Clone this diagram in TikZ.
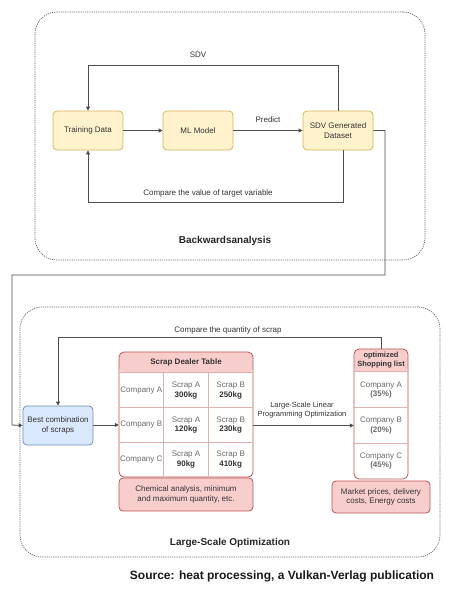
\documentclass[tikz,border=0pt]{standalone}
\usepackage{fontspec}
\setmainfont{Liberation Sans}
\usepackage{xcolor}
\usepackage{tikz}
\usetikzlibrary{arrows.meta}

\definecolor{ylfill}{HTML}{FFF2CC}
\definecolor{yldraw}{HTML}{D6B656}
\definecolor{blfill}{HTML}{DAE8FC}
\definecolor{bldraw}{HTML}{6C8EBF}
\definecolor{rdfill}{HTML}{F8CECC}
\definecolor{rddraw}{HTML}{B85450}
\definecolor{linegray}{HTML}{4D4D4D}
\definecolor{txtgray}{HTML}{333333}
\definecolor{cellgray}{HTML}{6A6A6A}

\begin{document}
\begin{tikzpicture}[x=1pt, y=-1pt,
    font=\fontsize{8}{9.5}\selectfont, text=txtgray,
    group/.style={rectangle, rounded corners=22pt, draw=black!60, line width=0.7pt, dash pattern=on 1.2pt off 1pt},
    process/.style={rectangle, rounded corners=4pt, draw=yldraw, fill=ylfill, line width=0.8pt, minimum width=70pt, minimum height=39pt, align=center},
    bestbox/.style={rectangle, rounded corners=4pt, draw=bldraw, fill=blfill, line width=0.8pt, minimum width=70pt, minimum height=39pt, align=center},
    notebox/.style={rectangle, rounded corners=4pt, draw=rddraw, fill=rdfill, line width=0.8pt, align=center},
    tablebox/.style={rectangle, rounded corners=5pt, draw=rddraw, fill=white, line width=0.8pt},
    cell/.style={inner sep=0pt, align=center, text=cellgray},
    grid/.style={draw=rddraw!45, line width=0.8pt},
    flow/.style={draw=linegray, line width=0.8pt, -{Triangle[length=4pt,width=4pt]}},
    caption/.style={font=\fontsize{10}{12}\selectfont\bfseries, text=black!85}
]
    \useasboundingbox (0,0) rectangle (462,592);

    % Backwards analysis
    \node[group, minimum width=390pt, minimum height=248pt] (backward) at (230,136) {};
    \node[process] (train) at (88,130.5) {Training Data};
    \node[process] (mlmodel) at (198,130.5) {ML Model};
    \node[process] (sdv) at (338,130.5) {SDV Generated\\Dataset};
    \node[caption] (backlbl) at (225,241) {Backwardsanalysis};

    % Arrows (backwards analysis)
    \draw[flow] (train) -- (mlmodel);
    \draw[flow] (mlmodel) -- (sdv);
    \draw[flow] (sdv.north) |- (88,65) -- (train.north);
    \draw[flow] ([xshift=5pt]sdv.south) |- (88,202) -- (train.south);

    % Labels
    \node (sdvlbl) at (198,55) {SDV};
    \node (predlbl) at (268,120) {Predict};
    \node (cmplbl) at (208,193) {Compare the value of target variable};

    % Large-scale optimization
    \node[group, minimum width=420pt, minimum height=250pt] (largescale) at (230,432) {};
    \node[bestbox] (best) at (58,425.5) {Best combination\\of scraps};
    \node[caption] (optlbl) at (230,543) {Large-Scale Optimization};

    % Scrap dealer table
    \node[tablebox, minimum width=134pt, minimum height=125pt,
        path picture={\fill[rdfill] (path picture bounding box.north west) rectangle ([yshift=-21pt]path picture bounding box.north east);}]
        (dealer) at (186,414.5) {};
    \node[font=\fontsize{8}{9.5}\selectfont\bfseries] (dealerhead) at (186,362.5) {Scrap Dealer Table};
    \node[cell, minimum width=44.67pt, minimum height=34.67pt] (ca) at (141.33,390.33) {Company A};
    \node[cell, minimum width=44.67pt, minimum height=34.67pt] (cb) at (141.33,425) {Company B};
    \node[cell, minimum width=44.67pt, minimum height=34.67pt] (cc) at (141.33,459.67) {Company C};
    \node[cell, minimum width=44.67pt, minimum height=34.67pt] (aa) at (186,390.33) {Scrap A\\\textcolor{txtgray}{\textbf{300kg}}};
    \node[cell, minimum width=44.67pt, minimum height=34.67pt] (ab) at (186,425) {Scrap A\\\textcolor{txtgray}{\textbf{120kg}}};
    \node[cell, minimum width=44.67pt, minimum height=34.67pt] (ac) at (186,459.67) {Scrap A\\\textcolor{txtgray}{\textbf{90kg}}};
    \node[cell, minimum width=44.67pt, minimum height=34.67pt] (ba) at (230.67,390.33) {Scrap B\\\textcolor{txtgray}{\textbf{250kg}}};
    \node[cell, minimum width=44.67pt, minimum height=34.67pt] (bb) at (230.67,425) {Scrap B\\\textcolor{txtgray}{\textbf{230kg}}};
    \node[cell, minimum width=44.67pt, minimum height=34.67pt] (bc) at (230.67,459.67) {Scrap B\\\textcolor{txtgray}{\textbf{410kg}}};
    \draw[grid] (ca.north west) -- (ba.north east);
    \draw[grid] (ca.south west) -- (ba.south east);
    \draw[grid] (cb.south west) -- (bb.south east);
    \draw[grid] (ca.north east) -- (cc.south east);
    \draw[grid] (aa.north east) -- (ac.south east);
    \node[notebox, minimum width=134pt, minimum height=33pt] (dealernote) at (186,494.5) {Chemical analysis, minimum\\and maximum quantity, etc.};

    % Shopping list
    \node[tablebox, minimum width=54pt, minimum height=130pt,
        path picture={\fill[rdfill] (path picture bounding box.north west) rectangle ([yshift=-23pt]path picture bounding box.north east);}]
        (list) at (381,414) {};
    \node[font=\fontsize{7.5}{9}\selectfont\bfseries, align=center] (listhead) at (381,360.5) {optimized\\Shopping list};
    \node[cell, minimum width=54pt, minimum height=35.67pt] (la) at (381,389.83) {Company A\\\textbf{(35\%)}};
    \node[cell, minimum width=54pt, minimum height=35.67pt] (lb) at (381,425.5) {Company B\\\textbf{(20\%)}};
    \node[cell, minimum width=54pt, minimum height=35.67pt] (lc) at (381,461.17) {Company C\\\textbf{(45\%)}};
    \draw[grid] (la.north west) -- (la.north east);
    \draw[grid] (la.south west) -- (la.south east);
    \draw[grid] (lb.south west) -- (lb.south east);
    \node[notebox, minimum width=98pt, minimum height=32pt] (listnote) at (381,497) {Market prices, delivery\\costs, Energy costs};

    % Arrows (optimization)
    \draw[flow] (sdv.east) -| (385,275) -| (12,425) -- (best.west);
    \draw[flow] (best.east |- cb.west) -- (cb.west);
    \draw[flow] (dealer.east |- lb.west) -- (lb.west);
    \draw[flow] (list.north) |- (58,337) -- (best.north);

    % Labels
    \node[font=\fontsize{7.5}{9}\selectfont, align=center] (lplbl) at (302,410) {Large-Scale Linear\\Programming Optimization};
    \node (qtylbl) at (228,330) {Compare the quantity of scrap};
    \node[font=\fontsize{12}{14}\selectfont\bfseries, text=black!90] (source) at (282,576) {Source: heat processing, a Vulkan-Verlag publication};
\end{tikzpicture}
\end{document}
